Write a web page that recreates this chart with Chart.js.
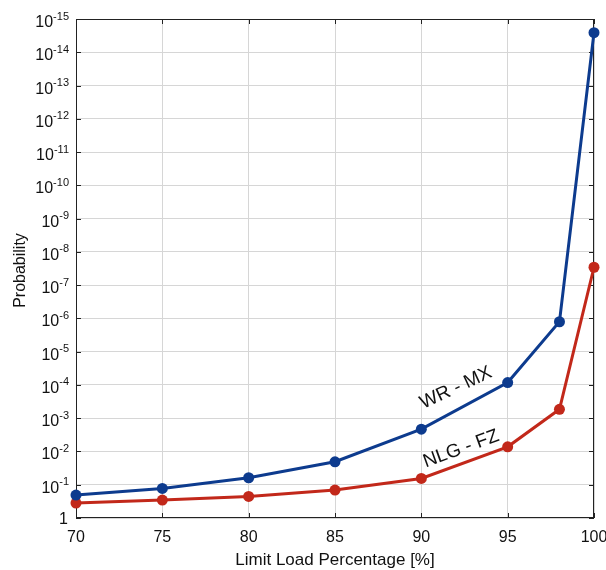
<!DOCTYPE html>
<html>
<head>
<meta charset="utf-8">
<script src="https://cdn.jsdelivr.net/npm/chart.js@4"></script>
<style>
  html, body { margin: 0; padding: 0; background: #fff; }
  #wrap { width: 606px; height: 570px; }
</style>
</head>
<body>
<div id="wrap"><canvas id="probChart" width="606" height="570"></canvas></div>
<script>
// data
const loadPct = [70, 75, 80, 85, 90, 95, 98, 100];
const wrMx = [0.204, 0.129, 0.0617, 0.0204, 0.00214, 8.5e-5, 1.26e-6, 2.57e-15];
const nlgFz = [0.355, 0.288, 0.224, 0.145, 0.0646, 0.00724, 5.4e-4, 2.9e-8];
const xTicks = [70, 75, 80, 85, 90, 95, 100];
const yExps = [0, 1, 2, 3, 4, 5, 6, 7, 8, 9, 10, 11, 12, 13, 14, 15];

const blue = '#0d3b8e';
const red = '#c2281a';
const font = "'Liberation Sans', Arial, Helvetica, sans-serif";

const toPts = (xs, ys) => xs.map((x, i) => ({ x: x, y: ys[i] }));

// frame, inner ticks, y labels with superscripts, axis titles, curve labels
const decor = {
  id: 'decor',
  beforeDatasetsDraw(chart) {
    const { ctx, chartArea: a, scales } = chart;
    const xs = scales.x, ys = scales.y;
    ctx.save();
    ctx.strokeStyle = '#222';
    ctx.lineWidth = 1;
    ctx.strokeRect(a.left + 0.5, a.top + 0.5, a.right - a.left - 1, a.bottom - a.top - 1);
    ctx.beginPath();
    yExps.forEach(e => {
      const y = Math.round(ys.getPixelForValue(Math.pow(10, -e))) + 0.5;
      ctx.moveTo(a.left, y); ctx.lineTo(a.left + 5, y);
      ctx.moveTo(a.right, y); ctx.lineTo(a.right - 5, y);
    });
    xTicks.forEach(v => {
      const x = Math.round(xs.getPixelForValue(v)) + 0.5;
      ctx.moveTo(x, a.top); ctx.lineTo(x, a.top + 5);
      ctx.moveTo(x, a.bottom); ctx.lineTo(x, a.bottom - 5);
    });
    ctx.stroke();
    ctx.restore();
  },
  afterDraw(chart) {
    const { ctx, chartArea: a, scales } = chart;
    const xs = scales.x, ys = scales.y;
    ctx.save();

    // y tick labels
    ctx.fillStyle = '#111';
    ctx.textAlign = 'right';
    ctx.textBaseline = 'alphabetic';
    const xr = a.left - 7;
    yExps.forEach(e => {
      const y = ys.getPixelForValue(Math.pow(10, -e));
      if (e === 0) {
        ctx.font = '16px ' + font;
        ctx.fillText('1', xr - 1, y + 6);
        return;
      }
      const sup = '-' + e;
      ctx.font = '11px ' + font;
      const w = ctx.measureText(sup).width;
      ctx.fillText(sup, xr, y + 0.5);
      ctx.font = '16px ' + font;
      ctx.fillText('10', xr - w, y + 8);
    });

    // axis titles
    ctx.textAlign = 'center';
    ctx.font = '17px ' + font;
    ctx.fillText('Limit Load Percentage [%]', (a.left + a.right) / 2, 565);
    ctx.save();
    ctx.translate(25, (a.top + a.bottom) / 2 + 2);
    ctx.rotate(-Math.PI / 2);
    ctx.font = '16px ' + font;
    ctx.fillText('Probability', 0, 0);
    ctx.restore();

    // curve labels
    ctx.font = '19px ' + font;
    ctx.textBaseline = 'middle';
    ctx.save();
    ctx.translate(xs.getPixelForValue(92.0), 388);
    ctx.rotate(-25 * Math.PI / 180);
    ctx.fillText('WR - MX', 0, 0);
    ctx.restore();
    ctx.save();
    ctx.translate(xs.getPixelForValue(92.3), 449);
    ctx.rotate(-20 * Math.PI / 180);
    ctx.fillText('NLG - FZ', 0, 0);
    ctx.restore();
    ctx.restore();
  }
};

new Chart(document.getElementById('probChart'), {
  type: 'line',
  data: {
    datasets: [
      {
        label: 'WR - MX',
        data: toPts(loadPct, wrMx),
        borderColor: blue,
        backgroundColor: blue,
        borderWidth: 3,
        pointRadius: 5.5,
        pointBorderWidth: 0,
        tension: 0,
        clip: false
      },
      {
        label: 'NLG - FZ',
        data: toPts(loadPct, nlgFz),
        borderColor: red,
        backgroundColor: red,
        borderWidth: 3,
        pointRadius: 5.5,
        pointBorderWidth: 0,
        tension: 0,
        clip: false
      }
    ]
  },
  options: {
    responsive: false,
    animation: false,
    layout: { padding: { top: 19, right: 12, left: 0, bottom: 0 } },
    plugins: { legend: { display: false }, tooltip: { enabled: false } },
    scales: {
      x: {
        type: 'linear',
        min: 70,
        max: 100,
        afterBuildTicks: s => { s.ticks = xTicks.map(v => ({ value: v })); },
        afterFit: s => { s.height = 52; s.paddingLeft = 0; s.paddingRight = 0; },
        ticks: {
          color: '#111',
          padding: 10,
          maxRotation: 0,
          font: { family: font, size: 16 }
        },
        grid: { color: '#d6d6d6', drawTicks: false },
        border: { display: false }
      },
      y: {
        type: 'logarithmic',
        reverse: true,
        min: 1e-15,
        max: 1,
        afterBuildTicks: s => { s.ticks = yExps.map(e => ({ value: Math.pow(10, -e) })); },
        afterFit: s => { s.width = 76; s.paddingTop = 0; s.paddingBottom = 0; },
        ticks: { display: false },
        grid: { color: '#d6d6d6', drawTicks: false },
        border: { display: false }
      }
    }
  },
  plugins: [decor]
});
</script>
</body>
</html>
